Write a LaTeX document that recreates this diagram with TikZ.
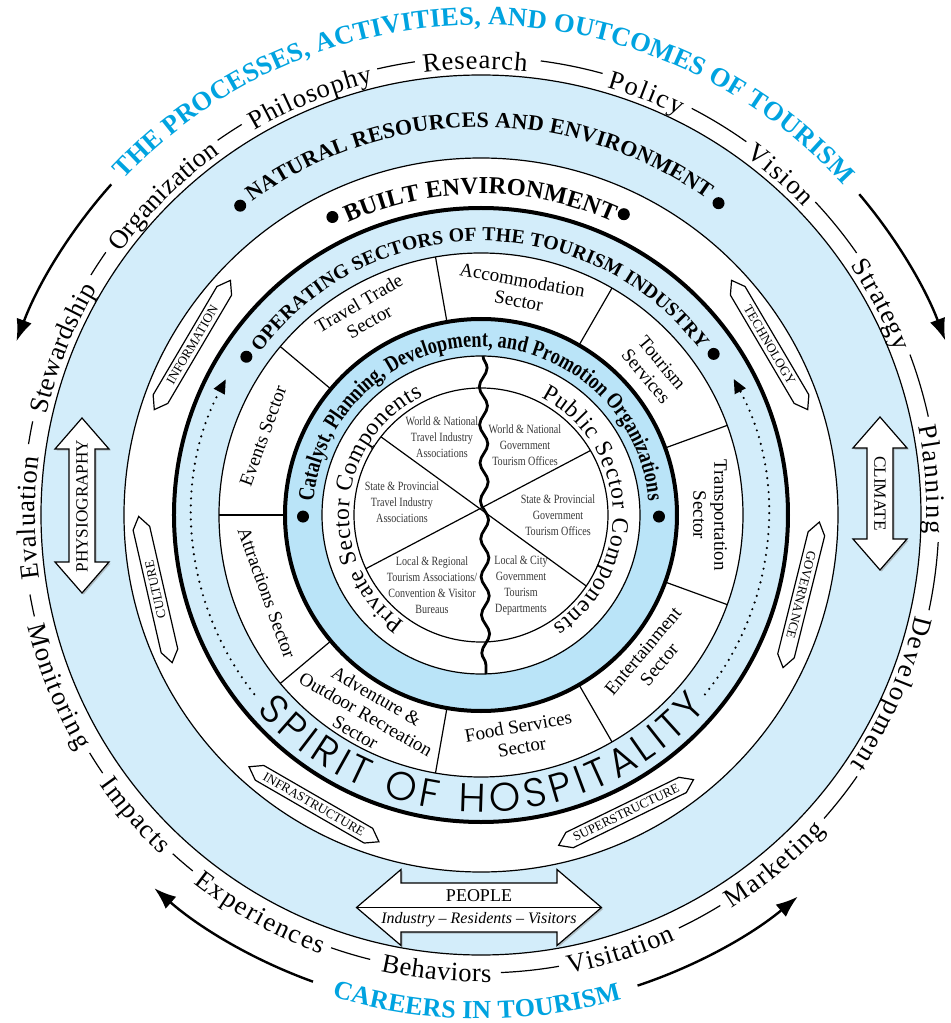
\documentclass[tikz,border=0pt]{standalone}
\usepackage{fontspec}
\setmainfont{Liberation Serif}
\newfontfamily\condfont[FakeStretch=0.8]{Liberation Serif}
\newfontfamily\spiritfont{Poppins Light}
\usetikzlibrary{decorations.text,decorations.pathmorphing,shapes.symbols,arrows.meta,shadows}
\definecolor{ringblue}{RGB}{211,237,250}
\definecolor{coreblue}{RGB}{186,228,248}
\definecolor{headblue}{RGB}{0,163,224}
\definecolor{innergray}{RGB}{55,55,55}
\newcommand\wordfont{\fontsize{13.3}{14}\selectfont}
\newcommand\capsfont[1]{\fontsize{#1}{#1}\selectfont\bfseries}
\begin{document}
\begin{tikzpicture}[x=0.5pt,y=0.5pt,line width=0.6pt,
  arclabel/.style={decorate,decoration={text along path,text align=fit to path,text={#1}}},
  sector/.style={align=center,font=\fontsize{9.5}{10.5}\selectfont,inner sep=0pt},
  inner/.style={align=center,font=\condfont\fontsize{6.3}{8}\selectfont,text=innergray,inner sep=0pt},
  hexbox/.style={signal,signal to=east and west,signal pointer angle=70,draw,fill=white,minimum width=75pt,minimum height=8.5pt,inner xsep=1pt,inner ysep=0.5pt,font=\fontsize{6.5}{6.5}\selectfont},
  arrowbox/.style={draw,fill=white,drop shadow={shadow xshift=0.8pt,shadow yshift=-0.8pt,fill=black!45}},
  dot/.style={circle,fill,inner sep=0pt,minimum size=6pt},
  bigarrow/.style={line width=1.2pt,-{Latex[length=11pt,width=8pt]}},
  dotarrow/.style={line width=1.2pt,line cap=round,dash pattern=on 0pt off 3.5pt,-{Triangle[length=7pt,width=6pt]}}]
\fill[white] (-481,-508) rectangle (469,515);
\useasboundingbox (-481,-508) rectangle (469,515);
% rings
\filldraw[fill=ringblue] (0,0) circle[radius=440];
\filldraw[fill=white] (0,0) circle[radius=357];
\filldraw[fill=ringblue,line width=2pt] (0,0) circle[radius=307];
\filldraw[fill=white] (0,0) circle[radius=262];
\filldraw[fill=coreblue,line width=2pt] (0,0) circle[radius=196];
\filldraw[fill=white] (0,0) circle[radius=159];
\draw (0,0) circle[radius=127];
% sector dividers
\draw (100:196) -- (100:262);
\draw (60:196) -- (60:262);
\draw (20:196) -- (20:262);
\draw (-20:196) -- (-20:262);
\draw (-60:196) -- (-60:262);
\draw (-100:196) -- (-100:262);
\draw (220:196) -- (220:262);
\draw (180:196) -- (180:262);
\draw (140:196) -- (140:262);
\draw (142:127) -- (-34:127);
\draw (205:127) -- (30.5:127);
\coordinate (waveTop) at (2,159);
\coordinate (waveBot) at (5,-159);
\draw[line width=1.4pt,decorate,decoration={snake,segment length=19pt,amplitude=2pt}] (waveTop) -- (waveBot);
% sectors
\node[sector,rotate=30] (travel) at (120:234) {Travel Trade\\Sector};
\node[sector,rotate=-10] (accom) at (80:228) {Accommodation\\Sector};
\node[sector,rotate=-50] (tourserv) at (40:226) {Tourism\\Services};
\node[sector,rotate=-90] (transp) at (0:229) {Transportation\\Sector};
\node[sector,rotate=50] (entert) at (-40:222) {Entertainment\\Sector};
\node[sector,rotate=10] (food) at (-80:225) {Food Services\\Sector};
\node[sector,rotate=-30] (advent) at (240:230) {Adventure \&\\Outdoor Recreation\\Sector};
\node[sector,rotate=-70] (attract) at (200:228) {Attractions Sector};
\node[sector,rotate=70] (events) at (160:232) {Events Sector};
% inner components
\node[inner] (wnTravel) at (-39,78) {World \& National\\Travel Industry\\Associations};
\node[inner] (wnGov) at (44,70) {World \& National\\Government\\Tourism Offices};
\node[inner] (spTravel) at (-79,13) {State \& Provincial\\Travel Industry\\Associations};
\node[inner] (spGov) at (77,0) {State \& Provincial\\Government\\Tourism Offices};
\node[inner] (lrTravel) at (-49,-70) {Local \& Regional\\Tourism Associations/\\Convention \& Visitor\\Bureaus};
\node[inner] (lcGov) at (40,-70) {Local \& City\\Government\\Tourism\\Departments};
% ring titles
\path[arclabel={|\capsfont{13.3}\color{headblue}|THE PROCESSES, ACTIVITIES, AND OUTCOMES OF TOURISM}] (136.8:490) arc[start angle=136.8,end angle=42.3,radius=490];
\path[arclabel={|\capsfont{13}\color{headblue}|CAREERS IN TOURISM}] (252.8:504) arc[start angle=252.8,end angle=286.2,radius=504];
\path[arclabel={|\capsfont{11}|NATURAL RESOURCES AND ENVIRONMENT}] (126.2:388) arc[start angle=126.2,end angle=54.5,radius=388];
\path[arclabel={|\capsfont{12.2}|BUILT ENVIRONMENT}] (114.5:321) arc[start angle=114.5,end angle=65.8,radius=321];
\path[arclabel={|\capsfont{9.9}|OPERATING SECTORS OF THE TOURISM INDUSTRY}] (143.7:274) arc[start angle=143.7,end angle=37,radius=274];
\path[arclabel={|\condfont\capsfont{11.4}|Catalyst, Planning, Development, and Promotion Organizations}] (175.4:168) arc[start angle=175.4,end angle=4.8,radius=168];
\path[arclabel={|\fontsize{11.8}{12}\selectfont|Private Sector Components}] (234.8:132) arc[start angle=234.8,end angle=116,radius=132];
\path[arclabel={|\fontsize{11.8}{12}\selectfont|Public Sector Components}] (63:132) arc[start angle=63,end angle=-57,radius=132];
\path[arclabel={|\spiritfont\fontsize{20}{20}\selectfont|SPIRIT OF HOSPITALITY}] (221:297) arc[start angle=221,end angle=319.5,radius=297];
% bullets
\node[dot] (natL) at (127.9:392) {};
\node[dot] (natR) at (52.7:392) {};
\node[dot] (builtL) at (116.5:333) {};
\node[dot] (builtR) at (64.6:333) {};
\node[dot] (operL) at (146:283) {};
\node[dot] (operR) at (34.7:283) {};
\node[dot] (catL) at (180.5:178) {};
\node[dot] (catR) at (-0.5:178) {};
% dotted flow
\coordinate (dotL) at (218.3:289);
\coordinate (dotR) at (-38.7:287);
\draw[dotarrow] (dotL) arc[start angle=218.3,end angle=152,radius=289];
\draw[dotarrow] (dotR) arc[start angle=-38.7,end angle=28.3,radius=287];
% built environment factors
\node[hexbox,rotate=59.5] (info) at (149.5:335) {INFORMATION};
\node[hexbox,rotate=-59.5] (techn) at (30.5:335) {TECHNOLOGY};
\node[hexbox,rotate=102.9] (culture) at (192.9:334) {CULTURE};
\node[hexbox,rotate=-104] (govern) at (-14:330) {GOVERNANCE};
\node[hexbox,rotate=-30] (infra) at (240:334) {INFRASTRUCTURE};
\node[hexbox,rotate=26] (superst) at (-64:331) {SUPERSTRUCTURE};
% natural environment arrows
\draw[arrowbox] (-399,97) -- (-372,66) -- (-386,66) -- (-386,-47) -- (-372,-47) -- (-399,-78) -- (-426,-47) -- (-412,-47) -- (-412,66) -- (-426,66) -- cycle;
\node[rotate=90,font=\fontsize{8.6}{9}\selectfont] (physio) at (-399,9) {PHYSIOGRAPHY};
\draw[arrowbox] (399,98) -- (426,67) -- (412,67) -- (412,-24) -- (426,-24) -- (399,-55) -- (372,-24) -- (386,-24) -- (386,67) -- (372,67) -- cycle;
\node[rotate=-90,font=\fontsize{8.6}{9}\selectfont] (climate) at (399,21.5) {CLIMATE};
\draw[arrowbox] (-124.5,-392.5) -- (-80,-354.5) -- (-80,-368) -- (76,-368) -- (76,-354.5) -- (120.5,-392.5) -- (76,-430.5) -- (76,-417) -- (-80,-417) -- (-80,-430.5) -- cycle;
\coordinate (peopleL) at (-124.5,-392.5);
\coordinate (peopleR) at (120.5,-392.5);
\draw (peopleL) -- (peopleR);
\node[font=\fontsize{9}{9}\selectfont] (people) at (-2,-381) {PEOPLE};
\node[font=\fontsize{8}{8}\selectfont\itshape] (peopleSub) at (-2,-405) {Industry -- Residents -- Visitors};
% processes and outcomes
\path[arclabel={|\wordfont|Evaluation}] (188.2:446) arc[start angle=188.2,end angle=172.5,radius=446];
\path[arclabel={|\wordfont|Stewardship}] (167:446) arc[start angle=167,end angle=149.5,radius=446];
\path[arclabel={|\wordfont|Organization}] (144:446) arc[start angle=144,end angle=125.8,radius=446];
\path[arclabel={|\wordfont|Philosophy}] (120.5:446) arc[start angle=120.5,end angle=104,radius=446];
\path[arclabel={|\wordfont|Research}] (97.4:446) arc[start angle=97.4,end angle=84.1,radius=446];
\path[arclabel={|\wordfont|Policy}] (73.6:446) arc[start angle=73.6,end angle=63.6,radius=446];
\path[arclabel={|\wordfont|Vision}] (53.6:446) arc[start angle=53.6,end angle=43.6,radius=446];
\path[arclabel={|\wordfont|Strategy}] (34:446) arc[start angle=34,end angle=21.5,radius=446];
\path[arclabel={|\wordfont|Planning}] (11.5:446) arc[start angle=11.5,end angle=-2.4,radius=446];
\path[arclabel={|\wordfont|Development}] (-13:446) arc[start angle=-13,end angle=-34,radius=446];
\path[arclabel={|\wordfont|Monitoring}] (193.8:467) arc[start angle=193.8,end angle=210.3,radius=467];
\path[arclabel={|\wordfont|Impacts}] (215.3:467) arc[start angle=215.3,end angle=226.7,radius=467];
\path[arclabel={|\wordfont|Experiences}] (232:467) arc[start angle=232,end angle=250,radius=467];
\path[arclabel={|\wordfont|Behaviors}] (257.6:467) arc[start angle=257.6,end angle=271.3,radius=467];
\path[arclabel={|\wordfont|Visitation}] (280.8:467) arc[start angle=280.8,end angle=294.6,radius=467];
\path[arclabel={|\wordfont|Marketing}] (302.5:467) arc[start angle=302.5,end angle=317.5,radius=467];
\draw (103.1:458) arc[start angle=103.1,end angle=98.3,radius=458];
\draw (82.5:458) arc[start angle=82.5,end angle=74.6,radius=458];
\draw (62.6:458) arc[start angle=62.6,end angle=54.6,radius=458];
\draw (43.1:458) arc[start angle=43.1,end angle=34.9,radius=458];
\draw (20.5:458) arc[start angle=20.5,end angle=12.4,radius=458];
\draw (-3.4:458) arc[start angle=-3.4,end angle=-12,radius=458];
\draw (-34.8:458) arc[start angle=-34.8,end angle=-41.5,radius=458];
\draw (-58.5:458) arc[start angle=-58.5,end angle=-64.4,radius=458];
\draw (-80.2:458) arc[start angle=-80.2,end angle=-87.5,radius=458];
\draw (256:458) arc[start angle=256,end angle=250.9,radius=458];
\draw (231:458) arc[start angle=231,end angle=227.7,radius=458];
\draw (214.3:458) arc[start angle=214.3,end angle=211.3,radius=458];
\draw (192.8:458) arc[start angle=192.8,end angle=190,radius=458];
\draw (171.1:458) arc[start angle=171.1,end angle=168.2,radius=458];
\draw (148.4:458) arc[start angle=148.4,end angle=145,radius=458];
\draw (125.1:458) arc[start angle=125.1,end angle=121.5,radius=458];
% cycle arrows
\coordinate (cycA) at (138.2:496);
\coordinate (cycB) at (40.3:496);
\coordinate (cycC) at (250.2:496);
\coordinate (cycD) at (-71.6:496);
\draw[bigarrow] (cycA) arc[start angle=138.2,end angle=159.5,radius=496];
\draw[bigarrow] (cycB) arc[start angle=40.3,end angle=20.6,radius=496];
\draw[bigarrow] (cycC) arc[start angle=250.2,end angle=228.8,radius=496];
\draw[bigarrow] (cycD) arc[start angle=-71.6,end angle=-50.3,radius=496];
\end{tikzpicture}
\end{document}
